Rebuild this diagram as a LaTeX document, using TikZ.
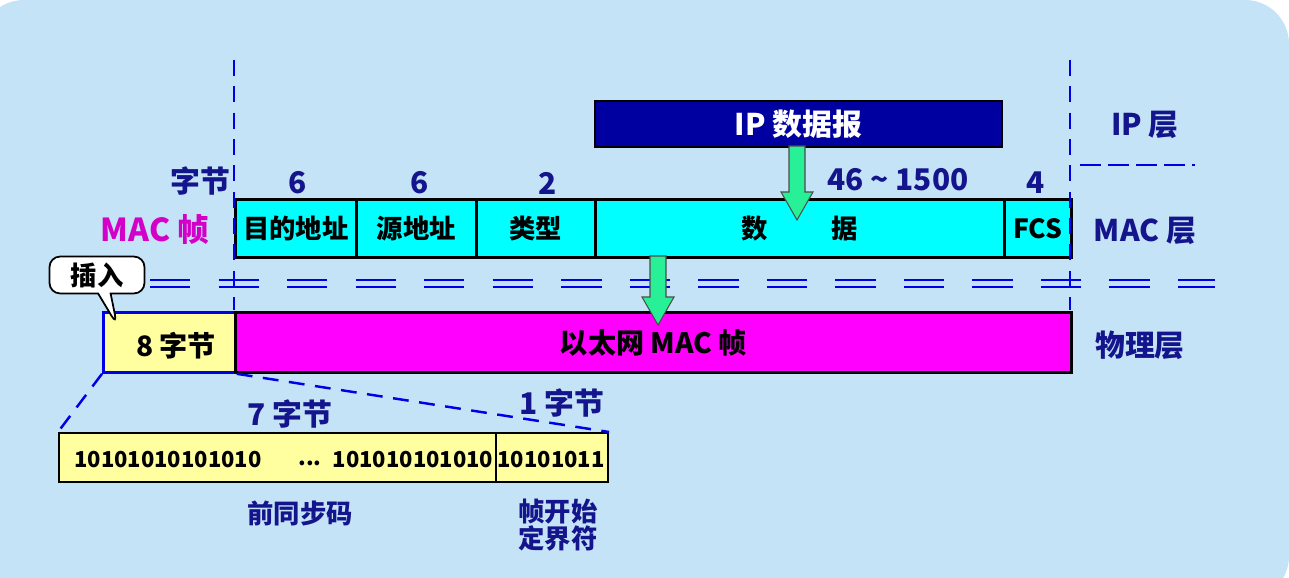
\documentclass[tikz,border=0pt]{standalone}
\usepackage{fontspec}
\setmainfont{Noto Sans CJK SC}
\usetikzlibrary{positioning,shapes.callouts}
\definecolor{bgblue}{RGB}{197,227,246}
\definecolor{navytext}{RGB}{20,20,140}
\definecolor{ipblue}{RGB}{0,0,160}
\definecolor{arrgreen}{RGB}{40,240,150}
\definecolor{paleyel}{RGB}{255,255,160}
\definecolor{cellcyan}{RGB}{0,255,255}
\definecolor{framemag}{RGB}{255,0,255}
\definecolor{labmag}{RGB}{210,0,200}
\definecolor{dashblue}{RGB}{0,0,230}
\tikzset{
  cell/.style={draw=black,line width=1.6pt,fill=cellcyan,anchor=north west,inner sep=0pt,
    font=\fontsize{15}{17}\selectfont\bfseries},
  num/.style={text=navytext,font=\fontsize{17}{19}\selectfont\bfseries},
  lay/.style={text=navytext,font=\fontsize{17}{19}\selectfont\bfseries},
  bits/.style={font=\fontsize{12.5}{15}\selectfont\bfseries},
  vdash/.style={draw=dashblue,line width=1.4pt,dash pattern=on 9pt off 6pt},
  ddash/.style={draw=dashblue,line width=1.3pt,dash pattern=on 23pt off 16pt},
}
\newcommand{\greenarrow}[3]{% x, top y, bottom y
  \fill[arrgreen,draw=black!70,line width=0.6pt]
    (#1-8,#2) -- (#1+8,#2) -- (#1+8,#3-28) -- (#1+16,#3-28) -- (#1,#3)
    -- (#1-16,#3-28) -- (#1-8,#3-28) -- cycle;}
\begin{document}
\begin{tikzpicture}[x=0.02cm,y=-0.02cm]
  \useasboundingbox (0,0) rectangle (1289,578);
  \fill[bgblue,rounded corners=25pt] (-20,0) rectangle (1289,600);

  % MAC frame
  \node[cell,minimum width=121*0.02cm,minimum height=58*0.02cm] (dst) at (234,198) {目的地址};
  \node[cell,minimum width=120*0.02cm,minimum height=58*0.02cm] (src) at (355,198) {源地址};
  \node[cell,minimum width=119*0.02cm,minimum height=58*0.02cm] (typ) at (475,198) {类型};
  \node[cell,minimum width=409*0.02cm,minimum height=58*0.02cm] (dat) at (594,198) {};
  \node[cell,minimum width=67*0.02cm,minimum height=58*0.02cm] (fcs) at (1003,198) {FCS};
  \node[font=\fontsize{15}{17}\selectfont\bfseries] (shu) at (755,229) {数};
  \node[font=\fontsize{15}{17}\selectfont\bfseries] (ju) at (845,229) {据};

  \node[num] (n1) at (298,183) {6};
  \node[num] (n2) at (420,183) {6};
  \node[num] (n3) at (548,183) {2};
  \node[num] (n4) at (898,180) {46 \textasciitilde\ 1500};
  \node[num] (n5) at (1036,183) {4};
  \node[num] (zj) at (200,181) {字节};
  \node[text=labmag,font=\fontsize{18}{20}\selectfont\bfseries] (macz) at (155,229) {MAC 帧};

  % IP datagram
  \node[draw=black,line width=1pt,fill=ipblue,text=white,anchor=north west,
    minimum width=407*0.02cm,minimum height=46*0.02cm,inner sep=0pt,
    font=\fontsize{17}{19}\selectfont\bfseries] (ip) at (594,100) {IP 数据报};

  % layer lines
  \draw[vdash] (234,60) -- (234,310);
  \draw[vdash] (1070,60) -- (1070,310);
  \draw[vdash,dash pattern=on 12pt off 4pt] (1080,165) -- (1195,165);
  \draw[ddash] (150,280) -- (1215,280);
  \draw[ddash] (150,287) -- (1215,287);

  % physical frame
  \node[draw=dashblue,line width=1.6pt,fill=paleyel,anchor=north west,inner sep=0pt,
    minimum width=132*0.02cm,minimum height=60*0.02cm] (pre) at (102,311) {};
  \node[font=\fontsize{16}{18}\selectfont\bfseries] (pretxt) at (176,346) {8 字节};
  \node[draw=black,line width=1.6pt,fill=framemag,anchor=north west,inner sep=0pt,
    minimum width=836*0.02cm,minimum height=60*0.02cm,
    font=\fontsize{16}{18}\selectfont\bfseries] (eth) at (234,311) {以太网 MAC 帧};

  \greenarrow{797}{146}{220}
  \greenarrow{658}{256}{325}

  % layer names
  \node[lay] (lip) at (1145,125) {IP 层};
  \node[lay] (lmac) at (1145,231) {MAC 层};
  \node[lay] (lphy) at (1140,345) {物理层};

  % callout
  \node[rectangle callout,draw=black,line width=1pt,fill=white,rounded corners=6pt,
    minimum width=95*0.02cm,minimum height=36*0.02cm,
    callout absolute pointer={(117,325)},
    font=\fontsize{15}{17}\selectfont\bfseries] (ins) at (97,275) {插入};

  % preamble expansion
  \node[draw=black,line width=1.2pt,fill=paleyel,anchor=north west,inner sep=0pt,
    minimum width=437*0.02cm,minimum height=49*0.02cm] (seven) at (58,432) {};
  \node[draw=black,line width=1.2pt,fill=paleyel,anchor=north west,inner sep=0pt,
    minimum width=112*0.02cm,minimum height=49*0.02cm] (one) at (495,432) {};
  \node[bits] (b1) at (168,460) {10101010101010};
  \node[bits] (b2) at (310,463) {...};
  \node[bits] (b3) at (413,460) {101010101010};
  \node[bits] (b4) at (551,460) {10101011};
  \draw[vdash] (pre.south west) -- (seven.north west);
  \draw[vdash] (pre.south east) -- (one.north east);

  \node[num] (z7) at (290,414) {7 字节};
  \node[num] (z1) at (562,403) {1 字节};
  \node[num,font=\fontsize{15}{17}\selectfont\bfseries] (tb) at (300,513) {前同步码};
  \node[num,font=\fontsize{15}{17}\selectfont\bfseries,align=center] (sfd) at (558,525)
    {帧开始\\[-2pt]定界符};
\end{tikzpicture}
\end{document}
